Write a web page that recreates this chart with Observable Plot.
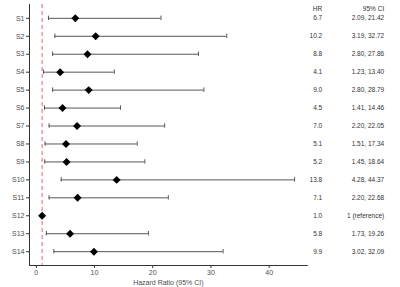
<!DOCTYPE html>
<html>
<head>
<meta charset="utf-8">
<script src="https://cdn.jsdelivr.net/npm/d3@7"></script>
<script src="https://cdn.jsdelivr.net/npm/@observablehq/plot@0.6"></script>
<style>
  html, body { margin: 0; padding: 0; background: #fff; }
  svg { display: block; font-family: "Liberation Sans", Arial, sans-serif; }
</style>
</head>
<body>
<div id="chart"></div>
<script>
const studies = ["S1","S2","S3","S4","S5","S6","S7","S8","S9","S10","S11","S12","S13","S14"];
const hr    = [6.7, 10.2, 8.8, 4.1, 9.0, 4.5, 7.0, 5.1, 5.2, 13.8, 7.1, 1.0, 5.8, 9.9];
const lower = [2.09, 3.19, 2.80, 1.23, 2.80, 1.41, 2.20, 1.51, 1.45, 4.28, 2.20, 1.00, 1.73, 3.02];
const upper = [21.42, 32.72, 27.86, 13.40, 28.79, 14.46, 22.05, 17.34, 18.64, 44.37, 22.68, 1.00, 19.26, 32.09];
const hrLabels = ["6.7","10.2","8.8","4.1","9.0","4.5","7.0","5.1","5.2","13.8","7.1","1.0","5.8","9.9"];
const ciLabels = ["2.09, 21.42","3.19, 32.72","2.80, 27.86","1.23, 13.40","2.80, 28.79","1.41, 14.46","2.20, 22.05","1.51, 17.34","1.45, 18.64","4.28, 44.37","2.20, 22.68","1 (reference)","1.73, 19.26","3.02, 32.09"];
const xTicks = [0, 10, 20, 30, 40];
const refLine = [1];
const headers = ["HR", "95% CI"];

const rows = studies.map((s, i) => ({
  study: s, hr: hr[i], lower: lower[i], upper: upper[i],
  hrText: hrLabels[i], ciText: ciLabels[i], isRef: lower[i] === upper[i]
}));
const bars = rows.filter(d => !d.isRef);

const xmin = d3.min(lower), xmax = d3.max(upper);
const pad = (xmax - xmin) * 0.05;
const capInset = (261 / 14.54 - 4.4) / 2;

const chart = Plot.plot({
  width: 400,
  height: 287,
  marginLeft: 29,
  marginRight: 93.3,
  marginTop: 4,
  marginBottom: 22,
  style: { fontFamily: "Liberation Sans, Arial, sans-serif", fontSize: "7px", background: "#fff" },
  x: { domain: [xmin - pad, xmax + pad], ticks: xTicks, label: "Hazard Ratio (95% CI)" },
  y: { type: "band", domain: studies, paddingInner: 0, paddingOuter: 0.27, round: false, label: null },
  marks: [
    Plot.ruleX(refLine, { stroke: "#e8646a", strokeWidth: 1, strokeDasharray: "4,3" }),
    Plot.ruleY(bars, { y: "study", x1: "lower", x2: "upper", stroke: "#444", strokeWidth: 0.9 }),
    Plot.tickX(bars, { x: "lower", y: "study", stroke: "#444", strokeWidth: 0.9, insetTop: capInset, insetBottom: capInset }),
    Plot.tickX(bars, { x: "upper", y: "study", stroke: "#444", strokeWidth: 0.9, insetTop: capInset, insetBottom: capInset }),
    Plot.dot(rows, { x: "hr", y: "study", symbol: "diamond2", r: 3.6, fill: "#000", stroke: "none" }),
    Plot.text(rows, { y: "study", text: "hrText", frameAnchor: "right", dx: 15, textAnchor: "end", fontSize: 6.5, fill: "#333" }),
    Plot.text(rows, { y: "study", text: "ciText", frameAnchor: "right", dx: 77, textAnchor: "end", fontSize: 6.5, fill: "#333" }),
    Plot.text([headers[0]], { frameAnchor: "top-right", dx: 15, dy: 4, textAnchor: "end", lineAnchor: "middle", fontSize: 6.5, fill: "#333" }),
    Plot.text([headers[1]], { frameAnchor: "top-right", dx: 77, dy: 4, textAnchor: "end", lineAnchor: "middle", fontSize: 6.5, fill: "#333" }),
    Plot.axisY({ tickSize: 3, tickPadding: 2, fill: "#4d4d4d", stroke: "#333", fontSize: 7 }),
    Plot.axisX({ ticks: xTicks, tickSize: 3, tickPadding: 2, fill: "#4d4d4d", stroke: "#333", fontSize: 7,
      label: "Hazard Ratio (95% CI)", labelAnchor: "center", labelArrow: "none", labelOffset: 19 }),
    Plot.frame({ anchor: "left", stroke: "#333", strokeWidth: 1 }),
    Plot.frame({ anchor: "bottom", stroke: "#333", strokeWidth: 1 })
  ]
});
document.getElementById("chart").appendChild(chart);
</script>
</body>
</html>
